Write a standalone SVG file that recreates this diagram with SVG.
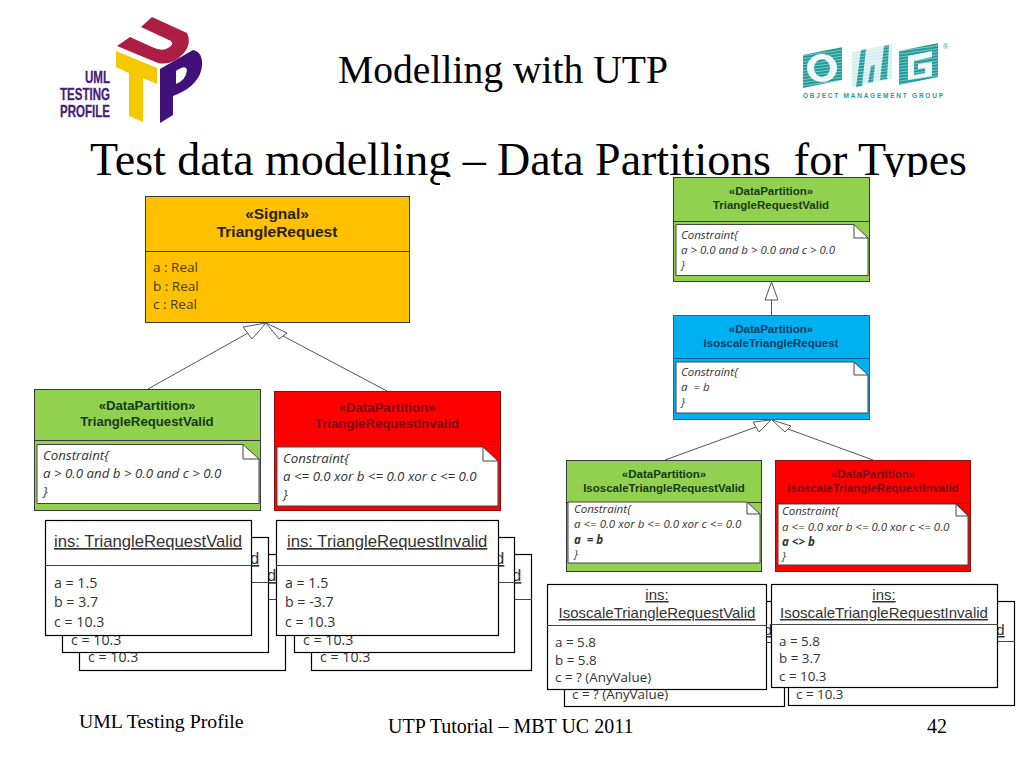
<svg xmlns="http://www.w3.org/2000/svg" width="1024" height="768" viewBox="0 0 1024 768">
<style>
text{font-family:"Liberation Sans",Arial,sans-serif;fill:#333}
.ser{font-family:"Liberation Serif","Times New Roman",serif;fill:#000}
.box{stroke:#3a3a3a;stroke-width:1}
.hd{font-weight:bold;text-anchor:middle;font-size:13.2px}
.hs{font-size:11.5px}
.hdl{font-weight:bold;text-anchor:middle;font-size:15.5px;fill:#2a2008}
.hdg{fill:#143c14}.hdr{fill:#7c0a14}.hdb{fill:#0c3c64}
.note{fill:#fff;stroke:#444;stroke-width:1}
.fold{fill:none;stroke:#444;stroke-width:1}
.con{font-family:"Open Sans","Liberation Sans",sans-serif;font-style:italic;font-size:13.3px;fill:#333}
.cons{font-family:"Open Sans","Liberation Sans",sans-serif;font-style:italic;font-size:11.5px;fill:#333}
.inst{fill:#fff;stroke:#000;stroke-width:1.2}
.div{stroke:#444;stroke-width:1}
.tit{font-size:16.7px;text-decoration:underline;fill:#333}
.tits{font-size:15px;text-decoration:underline;fill:#333;text-anchor:middle}
.val{font-family:"Open Sans","Liberation Sans",sans-serif;font-size:14.2px;fill:#333}
.vals{font-family:"Open Sans","Liberation Sans",sans-serif;font-size:13.4px;fill:#333}
.real{font-family:"Open Sans","Liberation Sans",sans-serif;font-size:13.5px;fill:#4a3c18}
.conn{fill:none;stroke:#555;stroke-width:1}
.tri{fill:#fff;stroke:#555;stroke-width:1}
.lg{font-size:16.5px;font-weight:bold;fill:#47207a;stroke:#47207a;stroke-width:.3;text-anchor:end}
.omg{fill:#1f9c9a}
</style>
<defs>
<pattern id="stripes" width="6" height="3" patternUnits="userSpaceOnUse" patternTransform="skewY(-8)">
<rect width="6" height="0.8" fill="#fff" fill-opacity="0.55"/>
</pattern>
</defs>
<rect width="1024" height="768" fill="#fff"/>
<g id="logo-utp">
<path d="M152 17 L141 27 L171 41 Q175 45 166 49 Q160 51 152 47 L130 37 L117 46 L158 63 Q172 66 184 53 Q192 43 187 33 Z" fill="#ad1e45"/>
<path d="M116 51 L157 68 L157 84 L143 78 L143 122 L129 116 L129 73 L116 67 Z" fill="#f5c800"/>
<path d="M160 69 L193 50 Q203 52 202 66 Q200 84 178 94 L173 96 L173 115 L160 123 Z M176 71 L176 84 Q186 80 187 70 Q186 64 176 71 Z" fill="#42107a" fill-rule="evenodd"/>
<text class="lg" x="110" y="83" textLength="25" lengthAdjust="spacingAndGlyphs">UML</text>
<text class="lg" x="110" y="100" textLength="50" lengthAdjust="spacingAndGlyphs">TESTING</text>
<text class="lg" x="110" y="117" textLength="50" lengthAdjust="spacingAndGlyphs">PROFILE</text>
</g>
<g id="logo-omg">
<path class="omg" d="M803 55 L842 47 L842 80 L803 88 Z"/>
<ellipse cx="822" cy="68" rx="15" ry="14" fill="#eef8f8"/>
<ellipse cx="822" cy="68" rx="8" ry="9" class="omg"/>
<path d="M852 52 L892 44 L892 79 L852 87 Z" fill="#d6eeed"/>
<path class="omg" d="M861 50 L866 49 L862 86 L856 87 Z M871 66 L875 65 L873 82 L868 83 Z M884 46 L889 45 L887 79 L880 80 Z"/>
<path class="omg" d="M899 51 L938 43 L938 77 L899 85 Z"/>
<path d="M908 56 L932 51 L932 57 L914 61 L914 75 L925 73 L925 68 L918 69 L918 64 L932 62 L932 76 L908 80 Z" fill="#eef8f8"/>
<rect x="800" y="40" width="142" height="50" fill="url(#stripes)"/>
<text x="943" y="49" font-size="7" style="fill:#1f9c9a">®</text>
<text x="803" y="98" font-size="6.500" font-weight="bold" style="fill:#1f9c9a" textLength="140" lengthAdjust="spacing">OBJECT MANAGEMENT GROUP</text>
</g>
<g id="titles">
<text class="ser" x="503" y="83" text-anchor="middle" font-size="39.600">Modelling with UTP</text>
<text class="ser" x="90" y="175" font-size="46" textLength="877" xml:space="preserve">Test data modelling – Data Partitions  for Types</text>
<rect x="440" y="177" width="540" height="12" fill="#fff"/>
</g>
<g id="connectors">
<path class="conn" d="M148 389 L248 333"/>
<path class="conn" d="M387 391 L283 336"/>
<path class="conn" d="M771.500 300 V316"/>
<path class="conn" d="M665 460 L756 427"/>
<path class="conn" d="M873 460 L788 429"/>
<polygon class="tri" points="266,323 243,327 252,339"/>
<polygon class="tri" points="266,323 287,333 279,339"/>
<polygon class="tri" points="771.500,282 765,300 778,300"/>
<polygon class="tri" points="771,420 753,422 759,432"/>
<polygon class="tri" points="772,420 791,426 785,432"/>
</g>
<g id="signal">
<rect class="box" x="145.500" y="196.500" width="264" height="126" fill="#ffc000"/>
<line class="box" x1="145" y1="251.500" x2="410" y2="251.500"/>
<text class="hdl" x="277" y="219">«Signal»</text>
<text class="hdl" x="277" y="237">TriangleRequest</text>
<text class="real" x="153" y="272">a : Real</text>
<text class="real" x="153" y="291">b : Real</text>
<text class="real" x="153" y="309">c : Real</text>
</g>
<g id="dp-valid">
<rect class="box" x="34.500" y="389.500" width="226" height="121" fill="#92d050"/>
<line class="box" x1="34" y1="440.500" x2="261" y2="440.500"/>
<text class="hd hdg" x="147" y="410">«DataPartition»</text>
<text class="hd hdg" x="147" y="426">TriangleRequestValid</text>
<path class="note" d="M37 444.500 H243 L259 459 V503.500 H37 Z"/>
<path class="fold" d="M243 444.500 V459 H259"/>
<text class="con" x="43" y="460">Constraint{</text>
<text class="con" x="43" y="478">a &gt; 0.0 and b &gt; 0.0 and c &gt; 0.0</text>
<text class="con" x="43" y="496">}</text>
</g>
<g id="dp-invalid">
<rect x="274.500" y="391.500" width="226" height="119" fill="#ff0000" stroke="#8a1010"/>
<line x1="274" y1="441.500" x2="501" y2="441.500" stroke="#a01010"/>
<text class="hd hdr" x="387" y="412">«DataPartition»</text>
<text class="hd hdr" x="387" y="428">TriangleRequestInvalid</text>
<path class="note" d="M277 447 H483 L498 461 V506 H277 Z"/>
<path class="fold" d="M483 447 V461 H498"/>
<text class="con" x="283" y="463">Constraint{</text>
<text class="con" x="283" y="481">a &lt;= 0.0 xor b &lt;= 0.0 xor c &lt;= 0.0</text>
<text class="con" x="283" y="499">}</text>
</g>
<g id="inst-valid">
<rect class="inst" x="79.500" y="554.500" width="206" height="116"/>
<text class="tit" x="267" y="581">d</text>
<line class="div" x1="79" y1="599.500" x2="286" y2="599.500"/>
<text class="val" x="88" y="662">c = 10.3</text>
<rect class="inst" x="62.500" y="537.500" width="206" height="115"/>
<text class="tit" x="250" y="564">d</text>
<line class="div" x1="62" y1="582.500" x2="269" y2="582.500"/>
<text class="val" x="71" y="645">c = 10.3</text>
<rect class="inst" x="45.500" y="520.500" width="206" height="115"/>
<text class="tit" x="54" y="547">ins: TriangleRequestValid</text>
<line class="div" x1="45" y1="565.500" x2="252" y2="565.500"/>
<text class="val" x="54" y="588">a = 1.5</text>
<text class="val" x="54" y="607">b = 3.7</text>
<text class="val" x="54" y="627">c = 10.3</text>
</g>
<g id="inst-invalid">
<rect class="inst" x="311.500" y="554.500" width="220" height="116"/>
<text class="tit" x="512" y="581">d</text>
<line class="div" x1="311" y1="599.500" x2="532" y2="599.500"/>
<text class="val" x="320" y="662">c = 10.3</text>
<rect class="inst" x="294.500" y="537.500" width="220" height="115"/>
<text class="tit" x="495" y="564">d</text>
<line class="div" x1="294" y1="582.500" x2="515" y2="582.500"/>
<text class="val" x="303" y="645">c = 10.3</text>
<rect class="inst" x="276.500" y="520.500" width="222" height="115"/>
<text class="tit" x="287" y="547">ins: TriangleRequestInvalid</text>
<line class="div" x1="276" y1="565.500" x2="498" y2="565.500"/>
<text class="val" x="285" y="588">a = 1.5</text>
<text class="val" x="285" y="607">b = -3.7</text>
<text class="val" x="285" y="627">c = 10.3</text>
</g>
<g id="dp-root">
<rect class="box" x="673.500" y="177.500" width="196" height="104" fill="#92d050"/>
<line class="box" x1="673" y1="221.500" x2="870" y2="221.500"/>
<text class="hd hs hdg" x="771" y="195">«DataPartition»</text>
<text class="hd hs hdg" x="771" y="209">TriangleRequestValid</text>
<path class="note" d="M676 224.500 H854 L868 238 V275.500 H676 Z"/>
<path class="fold" d="M854 224.500 V238 H868"/>
<text class="cons" x="681" y="239">Constraint{</text>
<text class="cons" x="681" y="254">a &gt; 0.0 and b &gt; 0.0 and c &gt; 0.0</text>
<text class="cons" x="681" y="269">}</text>
</g>
<g id="dp-iso">
<rect x="673.500" y="315.500" width="196" height="104" fill="#00b0f0" stroke="#1a6a98"/>
<line x1="673" y1="358.500" x2="870" y2="358.500" stroke="#14608c"/>
<text class="hd hs hdb" x="771" y="333">«DataPartition»</text>
<text class="hd hs hdb" x="771" y="347">IsoscaleTriangleRequest</text>
<path class="note" d="M676 362 H854 L868 375 V413 H676 Z"/>
<path class="fold" d="M854 362 V375 H868"/>
<text class="cons" x="681" y="376">Constraint{</text>
<text class="cons" x="681" y="391" xml:space="preserve">a  = b</text>
<text class="cons" x="681" y="406">}</text>
</g>
<g id="dp-iso-valid">
<rect class="box" x="566.500" y="460.500" width="195" height="111" fill="#92d050"/>
<line class="box" x1="566" y1="502.500" x2="762" y2="502.500"/>
<text class="hd hs hdg" x="664" y="478">«DataPartition»</text>
<text class="hd hs hdg" x="664" y="492">IsoscaleTriangleRequestValid</text>
<path class="note" d="M568 502 H747 L760 514 V563 H568 Z"/>
<path class="fold" d="M747 502 V514 H760"/>
<text class="cons" x="574" y="513">Constraint{</text>
<text class="cons" x="574" y="528">a &lt;= 0.0 xor b &lt;= 0.0 xor c &lt;= 0.0</text>
<text class="cons" x="574" y="544" font-weight="bold" xml:space="preserve">a  = b</text>
<text class="cons" x="574" y="558">}</text>
</g>
<g id="dp-iso-invalid">
<rect x="775.500" y="460.500" width="195" height="111" fill="#ff0000" stroke="#8a1010"/>
<line x1="775" y1="503.500" x2="971" y2="503.500" stroke="#a01010"/>
<text class="hd hs hdr" x="873" y="478">«DataPartition»</text>
<text class="hd hs hdr" x="873" y="492">IsoscaleTriangleRequestInvalid</text>
<path class="note" d="M778 504 H956 L968 516 V565 H778 Z"/>
<path class="fold" d="M956 504 V516 H968"/>
<text class="cons" x="782" y="515">Constraint{</text>
<text class="cons" x="782" y="531">a &lt;= 0.0 xor b &lt;= 0.0 xor c &lt;= 0.0</text>
<text class="cons" x="782" y="546" font-weight="bold">a &lt;&gt; b</text>
<text class="cons" x="782" y="560">}</text>
</g>
<g id="inst-iso-valid">
<rect class="inst" x="564.500" y="601.500" width="220" height="105"/>
<text class="tits" x="768" y="635">d</text>
<line class="div" x1="564" y1="642.500" x2="785" y2="642.500"/>
<text class="vals" x="572" y="699">c = ? (AnyValue)</text>
<rect class="inst" x="547.500" y="584.500" width="219" height="105"/>
<text class="tits" x="657" y="600">ins:</text>
<text class="tits" x="657" y="618">IsoscaleTriangleRequestValid</text>
<line class="div" x1="547" y1="625.500" x2="767" y2="625.500"/>
<text class="vals" x="555" y="647">a = 5.8</text>
<text class="vals" x="555" y="665">b = 5.8</text>
<text class="vals" x="555" y="682">c = ? (AnyValue)</text>
</g>
<g id="inst-iso-invalid">
<rect class="inst" x="788.500" y="601.500" width="226" height="104"/>
<text class="tits" x="1000.500" y="635">d</text>
<line class="div" x1="788" y1="641.500" x2="1015" y2="641.500"/>
<text class="vals" x="796" y="699">c = 10.3</text>
<rect class="inst" x="771.500" y="584.500" width="226" height="103"/>
<text class="tits" x="884" y="600">ins:</text>
<text class="tits" x="884" y="618">IsoscaleTriangleRequestInvalid</text>
<line class="div" x1="771" y1="624.500" x2="998" y2="624.500"/>
<text class="vals" x="779" y="646">a = 5.8</text>
<text class="vals" x="779" y="663">b = 3.7</text>
<text class="vals" x="779" y="681">c = 10.3</text>
</g>
<g id="footer">
<text class="ser" x="79" y="728" font-size="19.800">UML Testing Profile</text>
<text class="ser" x="388" y="733" font-size="20">UTP Tutorial – MBT UC 2011</text>
<text class="ser" x="927" y="733" font-size="20">42</text>
</g>
</svg>
